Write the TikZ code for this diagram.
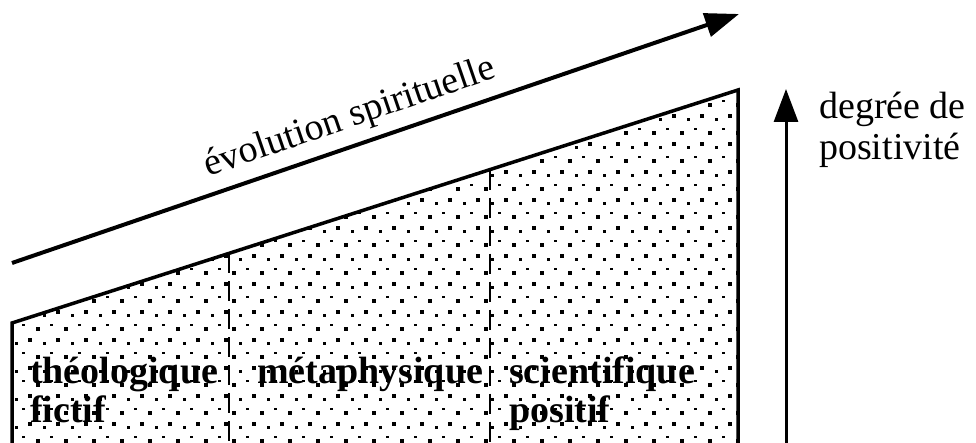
\documentclass[tikz,border=0pt]{standalone}
\usepackage{fontspec}
\setmainfont{Liberation Serif}
\usetikzlibrary{arrows.meta}
\begin{document}
\begin{tikzpicture}[x=1pt,y=1pt,
  edge/.style={line width=3.5pt, line join=miter},
  divider/.style={line width=2.2pt, dash pattern=on 20pt off 8pt},
  bigarrow/.style={line width=4pt, -{Triangle[length=34pt,width=24pt]}},
  uparrow/.style={line width=3pt, -{Triangle[length=33pt,width=24pt]}},
  stagelabel/.style={font=\fontsize{38}{39}\selectfont\bfseries, anchor=base west, inner sep=0pt, align=left},
  plainlabel/.style={font=\fontsize{38}{41}\selectfont, inner sep=0pt},
]
\useasboundingbox (0,0) rectangle (976,443);
% outline corners
\coordinate (p1) at (12,-5);
\coordinate (p2) at (12,120);
\coordinate (p3) at (738,353);
\coordinate (p4) at (738,-5);
% dotted fill
\begin{scope}
\clip (p1) -- (p2) -- (p3) -- (p4) -- cycle;
\foreach \i in {0,...,26} {
  \foreach \j in {0,...,16} {
    \fill ({9.7+28*\i-2},{422.3-28*\j-2}) rectangle +(4,4);
    \fill ({2.3+28*\i-2},{411-28*\j-2}) rectangle +(4,4);
    \fill ({23.7+28*\i-1.4},{426-28*\j-1.4}) rectangle +(2.8,2.8);
    \fill ({16.3+28*\i-1.4},{407.7-28*\j-1.4}) rectangle +(2.8,2.8);
  }
}
\end{scope}
% dividers
\coordinate (d1t) at (229,189.7);
\coordinate (d1b) at (229,-5);
\coordinate (d2t) at (490,273.4);
\coordinate (d2b) at (490,-5);
\draw[divider] (d1t) -- (d1b);
\draw[divider] (d2t) -- (d2b);
% outline
\draw[edge] (p1) -- (p2) -- (p3) -- (p4);
% evolution arrow
\coordinate (e1) at (12,180);
\coordinate (e2) at (739,429);
\draw[bigarrow] (e1) -- (e2);
\node[plainlabel, rotate=19, anchor=base] (evo) at (353,316) {évolution spirituelle};
% vertical arrow
\coordinate (u1) at (786,-5);
\coordinate (u2) at (786,354);
\draw[uparrow] (u1) -- (u2);
\node[plainlabel, anchor=base west, align=left] (deg) at (819,283) {degrée de\\positivité};
% stage labels
\node[stagelabel] (theo) at (30,20) {théologique\\fictif};
\node[stagelabel] (meta) at (257,59) {métaphysique};
\node[stagelabel] (scie) at (509,20) {scientifique\\positif};
\end{tikzpicture}
\end{document}
